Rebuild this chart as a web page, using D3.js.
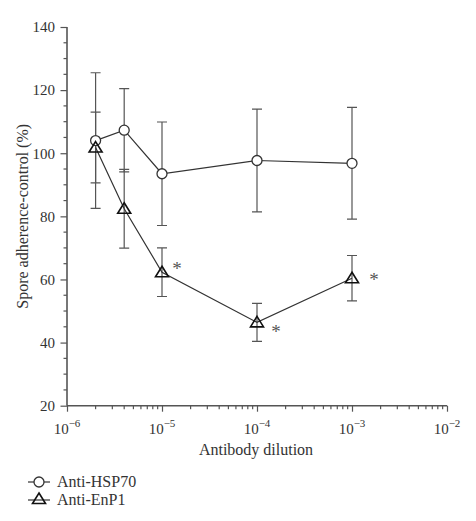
<!DOCTYPE html>
<html><head><meta charset="utf-8">
<script src="https://cdn.jsdelivr.net/npm/d3@7"></script>
<style>body{margin:0;background:#fff}svg text{font-family:"Liberation Serif","Times New Roman",serif;fill:#333}</style>
</head><body><svg id="c" width="476" height="521"></svg>
<script>
const dilutions = [2e-6, 4e-6, 1e-5, 1e-4, 1e-3];
const hspMean = [104.0, 107.3, 93.5, 97.7, 96.8];
const hspErr  = [21.5, 13.2, 16.4, 16.3, 17.7];
const enpMean = [101.8, 82.4, 62.3, 46.4, 60.4];
const enpErr  = [11.2, 12.5, 7.7, 6.0, 7.2];
const sigIdx  = [2, 3, 4];
const yTicks  = [20, 40, 60, 80, 100, 120, 140];
const xTicks  = [-6, -5, -4, -3, -2];
const seriesNames = ["Anti-HSP70", "Anti-EnP1"];

const svg = d3.select("#c");
const x = d3.scaleLog().domain([1e-6, 1e-2]).range([67, 447]);
const y = d3.scaleLinear().domain([20, 140]).range([405.7, 27]);
const ink = "#333", axisCol = "#555";

// Y axis
const yMinor = d3.range(20, 141, 5).filter(v => v % 20 !== 0);
const yAx = svg.append("g").attr("transform", "translate(67,0)");
yAx.call(d3.axisLeft(y).tickValues(yTicks).tickSize(6.5).tickPadding(5.5).tickFormat(d3.format("d")));
yAx.selectAll("line.minor").data(yMinor).join("line").attr("class", "minor")
  .attr("x1", -3.5).attr("x2", 0).attr("y1", d => y(d)).attr("y2", d => y(d))
  .attr("stroke", axisCol).attr("stroke-width", 1.2);
yAx.select(".domain").attr("stroke", axisCol).attr("stroke-width", 1.6).attr("d", `M0,${y(140)}V${y(20)}`);
yAx.selectAll(".tick line").attr("stroke", axisCol).attr("stroke-width", 1.2);
yAx.selectAll(".tick text").style("font-size", "15px").attr("fill", ink);

// X axis
const xMajor = xTicks.map(e => Math.pow(10, e));
const xMinor = [];
for (let e = -6; e < -2; e++) for (let m = 2; m <= 9; m++) xMinor.push(m * Math.pow(10, e));
const xAx = svg.append("g").attr("transform", `translate(0,${y(20)})`);
xAx.call(d3.axisBottom(x).tickValues(xMajor).tickSize(6).tickFormat(""));
xAx.select(".domain").attr("stroke", axisCol).attr("stroke-width", 1.6).attr("d", `M${x(1e-6)},0H${x(1e-2)}`);
xAx.selectAll(".tick line").attr("stroke", axisCol).attr("stroke-width", 1.2);
xAx.selectAll("line.minor").data(xMinor).join("line").attr("class", "minor")
  .attr("x1", d => x(d)).attr("x2", d => x(d)).attr("y1", 0).attr("y2", 3.5)
  .attr("stroke", axisCol).attr("stroke-width", 1.2);
xAx.selectAll("text.lab").data(xTicks).join("text").attr("class", "lab")
  .attr("x", d => x(Math.pow(10, d))).attr("y", 28).attr("text-anchor", "middle")
  .style("font-size", "15px")
  .each(function(d) {
    const t = d3.select(this);
    t.append("tspan").text("10");
    t.append("tspan").attr("dy", -7).style("font-size", "11px").text("\u2212" + Math.abs(d));
  });

// Axis titles
svg.append("text").attr("x", 256).attr("y", 455).attr("text-anchor", "middle")
  .style("font-size", "16px").text("Antibody dilution");
svg.append("text").attr("transform", `translate(28,${(y(140) + y(20)) / 2}) rotate(-90)`)
  .attr("text-anchor", "middle").style("font-size", "16px").text("Spore adherence-control (%)");

// Error bars
function errBars(means, errs) {
  const g = svg.append("g").attr("stroke", axisCol).attr("stroke-width", 1.2).attr("fill", "none");
  const d = dilutions.map((v, i) => ({x: v, m: means[i], e: errs[i]}));
  g.selectAll("path").data(d).join("path").attr("d", p => {
    const cx = x(p.x), t = y(p.m + p.e), b = y(p.m - p.e);
    return `M${cx},${t}V${b}M${cx - 5},${t}H${cx + 5}M${cx - 5},${b}H${cx + 5}`;
  });
}
errBars(hspMean, hspErr);
errBars(enpMean, enpErr);

const line = d3.line().x((d, i) => x(dilutions[i])).y(d => y(d));
svg.append("path").attr("d", line(hspMean)).attr("fill", "none").attr("stroke", ink).attr("stroke-width", 1.2);
svg.append("path").attr("d", line(enpMean)).attr("fill", "none").attr("stroke", ink).attr("stroke-width", 1.2);

const tri = "M0,-6L6.5,4.5L-6.5,4.5Z";
svg.selectAll("circle.h").data(hspMean).join("circle").attr("class", "h")
  .attr("cx", (d, i) => x(dilutions[i])).attr("cy", d => y(d)).attr("r", 5)
  .attr("fill", "#fff").attr("stroke", ink).attr("stroke-width", 1.3);
svg.selectAll("path.t").data(enpMean).join("path").attr("class", "t")
  .attr("transform", (d, i) => `translate(${x(dilutions[i])},${y(d)})`).attr("d", tri)
  .attr("fill", "none").attr("stroke", "#111").attr("stroke-width", 1.6);

// Significance asterisks
const sigOff = {2: [15, 2.5], 3: [19, 15.5], 4: [22, 7.5]};
svg.selectAll("text.sig").data(sigIdx).join("text").attr("class", "sig")
  .attr("x", i => x(dilutions[i]) + sigOff[i][0]).attr("y", i => y(enpMean[i]) + sigOff[i][1])
  .attr("text-anchor", "middle").style("font-size", "19px").style("fill", "#555").text("*");

// Legend
const leg = svg.append("g");
seriesNames.forEach((n, i) => {
  const ly = 482 + i * 18;
  leg.append("line").attr("x1", 28).attr("x2", 50).attr("y1", ly).attr("y2", ly).attr("stroke", ink).attr("stroke-width", 1.2);
  if (i === 0) leg.append("circle").attr("cx", 39).attr("cy", ly).attr("r", 5).attr("fill", "#fff").attr("stroke", ink).attr("stroke-width", 1.3);
  else leg.append("path").attr("transform", `translate(39,${ly - 1})`).attr("d", tri).attr("fill", "none").attr("stroke", "#111").attr("stroke-width", 1.6);
  leg.append("text").attr("x", 57).attr("y", ly + 5).style("font-size", "16px").text(n);
});
</script></body></html>
